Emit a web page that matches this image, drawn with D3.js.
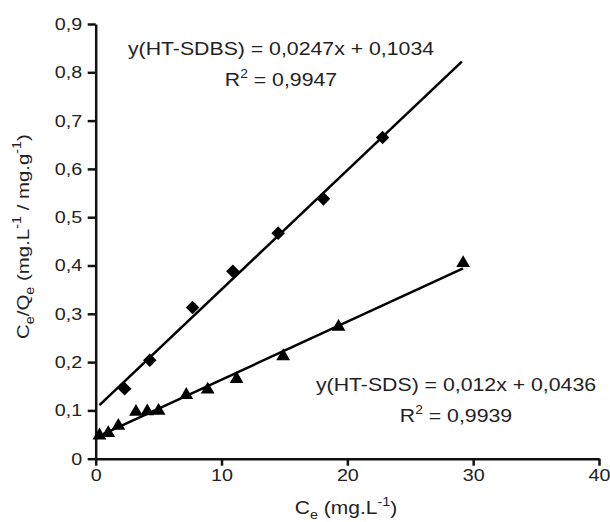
<!DOCTYPE html>
<html>
<head>
<meta charset="utf-8">
<script src="https://cdn.jsdelivr.net/npm/d3@7"></script>
<style>
  body { margin: 0; background: #fff; }
  svg { display: block; font-family: "Liberation Sans", Arial, sans-serif; }
</style>
</head>
<body>
<svg id="chart" width="610" height="522"></svg>
<script>
// HT-SDBS points (diamonds)
const sdbsX = [2.3, 4.3, 7.7, 10.9, 14.5, 18.1, 22.8];
const sdbsY = [0.145, 0.204, 0.313, 0.388, 0.467, 0.538, 0.665];
// HT-SDS points (triangles)
const sdsX = [0.3, 1.0, 1.8, 3.2, 4.1, 5.0, 7.2, 8.9, 11.2, 14.9, 19.3, 29.2];
const sdsY = [0.048, 0.053, 0.068, 0.097, 0.098, 0.099, 0.132, 0.143, 0.165, 0.212, 0.273, 0.405];
// linear fits: [slope, intercept], drawn over [xStart, xEnd]
const sdbsFit = [0.0247, 0.1034];
const sdbsFitRange = [0.3, 29.1];
const sdsFit = [0.012, 0.0436];
const sdsFitRange = [0.2, 29.2];

const xTicks = [0, 10, 20, 30, 40];
const yTicks = [0, 0.1, 0.2, 0.3, 0.4, 0.5, 0.6, 0.7, 0.8, 0.9];

const svg = d3.select("#chart");
const x = d3.scaleLinear().domain([0, 40]).range([95.7, 599]);
const y = d3.scaleLinear().domain([0, 0.9]).range([458.7, 24]);

const fmt = d => d === 0 ? "0" : d3.format(".1f")(d).replace(".", ",");
const wide = 1.16; // the original font runs wider than Arial

// axes
const xAxis = svg.append("g")
  .attr("transform", `translate(0,${y(0)})`)
  .call(d3.axisBottom(x).tickValues(xTicks).tickSize(7).tickPadding(3).tickSizeOuter(0));
const yAxis = svg.append("g")
  .attr("transform", `translate(${x(0)},0)`)
  .call(d3.axisLeft(y).tickValues(yTicks).tickFormat(fmt).tickSize(8).tickPadding(4).tickSizeOuter(0));

[xAxis, yAxis].forEach(g => {
  g.select(".domain").attr("stroke", "#111").attr("stroke-width", 2.5);
  g.selectAll(".tick line").attr("stroke", "#111").attr("stroke-width", 2.5);
  g.selectAll(".tick text").attr("fill", "#222").attr("font-size", 17)
    .attr("font-family", "Liberation Sans, Arial, sans-serif")
    .attr("transform", `scale(${wide},1)`);
});
yAxis.selectAll(".tick text").attr("x", -13.5 / wide);

// fit lines
const line = d3.line().x(d => x(d[0])).y(d => y(d[1]));
[[sdbsFit, sdbsFitRange], [sdsFit, sdsFitRange]].forEach(([f, r]) => {
  svg.append("path")
    .datum(r.map(v => [v, f[0] * v + f[1]]))
    .attr("d", line)
    .attr("fill", "none")
    .attr("stroke", "#000")
    .attr("stroke-width", 2.5);
});

// markers
svg.append("g").selectAll("path")
  .data(sdbsX.map((v, i) => [v, sdbsY[i]]))
  .join("path")
  .attr("d", d3.symbol(d3.symbolSquare, 92))
  .attr("transform", d => `translate(${x(d[0])},${y(d[1])}) rotate(45)`)
  .attr("fill", "#000");

svg.append("g").selectAll("path")
  .data(sdsX.map((v, i) => [v, sdsY[i]]))
  .join("path")
  .attr("d", d3.symbol(d3.symbolTriangle, 82))
  .attr("transform", d => `translate(${x(d[0])},${y(d[1])})`)
  .attr("fill", "#000");

// equation text
function eqText(cx, by, eq, r2) {
  svg.append("text")
    .attr("transform", `translate(${cx},${by}) scale(1.15,1)`)
    .attr("text-anchor", "middle").attr("font-size", 18.5).attr("fill", "#222")
    .text(eq);
  const t = svg.append("text")
    .attr("transform", `translate(${cx},${by + 31}) scale(1.15,1)`)
    .attr("text-anchor", "middle").attr("font-size", 18.5).attr("fill", "#222");
  t.append("tspan").text("R");
  t.append("tspan").attr("dy", -8).attr("font-size", 12).text("2");
  t.append("tspan").attr("dy", 8).text(" = " + r2);
}
eqText(281, 55, "y(HT-SDBS) = 0,0247x + 0,1034", "0,9947");
eqText(456, 391, "y(HT-SDS) = 0,012x + 0,0436", "0,9939");

// axis titles
const xl = svg.append("text")
  .attr("transform", "translate(346,514) scale(1.2,1)")
  .attr("text-anchor", "middle").attr("font-size", 17.5).attr("fill", "#222");
xl.append("tspan").text("C");
xl.append("tspan").attr("dy", 5).attr("font-size", 12).text("e");
xl.append("tspan").attr("dy", -5).text(" (mg.L");
xl.append("tspan").attr("dy", -8).attr("font-size", 12).text("-1");
xl.append("tspan").attr("dy", 8).text(")");

const yl = svg.append("text")
  .attr("transform", "translate(28.5,236.5) rotate(-90) scale(1.2,1)")
  .attr("text-anchor", "middle").attr("font-size", 17).attr("fill", "#222");
yl.append("tspan").text("C");
yl.append("tspan").attr("dy", 5).attr("font-size", 12).text("e");
yl.append("tspan").attr("dy", -5).text("/Q");
yl.append("tspan").attr("dy", 5).attr("font-size", 12).text("e");
yl.append("tspan").attr("dy", -5).text(" (mg.L");
yl.append("tspan").attr("dy", -8).attr("font-size", 12).text("-1");
yl.append("tspan").attr("dy", 8).text(" / mg.g");
yl.append("tspan").attr("dy", -8).attr("font-size", 12).text("-1");
yl.append("tspan").attr("dy", 8).text(")");
</script>
</body>
</html>
